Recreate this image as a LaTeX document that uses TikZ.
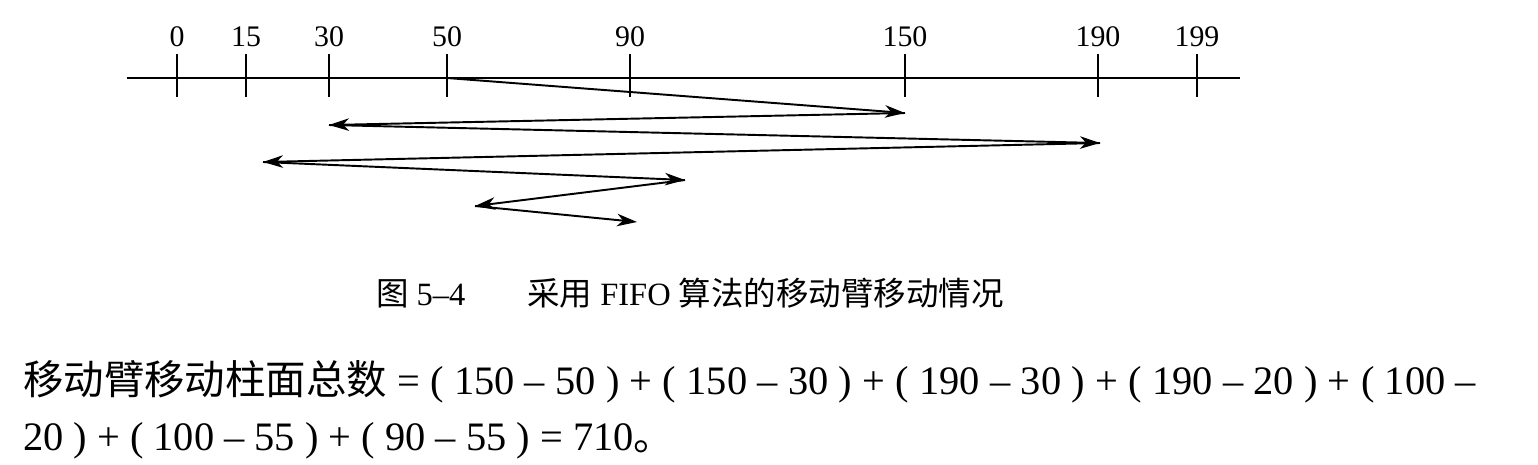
\documentclass[tikz,border=0pt]{standalone}
\usepackage{fontspec}
\setmainfont{Liberation Serif}
\newfontfamily\cjk{Noto Sans CJK SC}
\usetikzlibrary{arrows.meta}

\begin{document}
\begin{tikzpicture}[x=0.02cm, y=-0.02cm, line width=1.4pt,
                    every node/.style={inner sep=0pt},
                    move/.style={line width=1.1pt, -{Stealth[length=4mm, width=2.5mm, inset=1.2mm]}}]

                      \useasboundingbox (0,0) rectangle (1538,464);

                      \coordinate (left) at (127,78);
                      \coordinate (right) at (1240,78);
                      \draw (left) -- (right);

                      \foreach \c/\x in {0/177, 15/246, 30/329, 50/447, 90/630, 150/905, 190/1098, 199/1197} {
                              \coordinate (t\c) at (\x,78);
                              \draw (t\c) ++(0,-24) -- ++(0,43);
                              \node[anchor=base, font=\fontsize{17}{17}\selectfont] (l\c) at (\x,46) {\c};
                          }

                      \coordinate (p0) at (t50);
                      \coordinate (p1) at (905,113);
                      \coordinate (p2) at (329,125);
                      \coordinate (p3) at (1100,143);
                      \coordinate (p4) at (263,162);
                      \coordinate (p5) at (685,180);
                      \coordinate (p6) at (475,206);
                      \coordinate (p7) at (637,222);

                      \foreach \i/\j in {p0/p1, p1/p2, p2/p3, p3/p4, p4/p5, p5/p6, p6/p7} {
                              \draw[move] (\i) -- (\j);
                          }

                      \node[anchor=base, font=\fontsize{18.5}{18.5}\selectfont] (caption) at (690,305)
                          {{\cjk 图} 5–4\hspace{1.9em}{\cjk 采用} FIFO {\cjk 算法的移动臂移动情况}};

                      \node[anchor=base west, font=\fontsize{23}{23}\selectfont] (line1) at (22,394)
                          {\makebox[29.06cm][s]{{\cjk 移动臂移动柱面总数} = ( 150 – 50 ) + ( 150 – 30 ) + ( 190 – 30 ) + ( 190 – 20 ) + ( 100 –}};
                      \node[anchor=base west, font=\fontsize{23}{23}\selectfont] (line2) at (22,450)
                          {20 ) + ( 100 – 55 ) + ( 90 – 55 ) = 710{\cjk 。}};
                  \end{tikzpicture}
\end{document}
